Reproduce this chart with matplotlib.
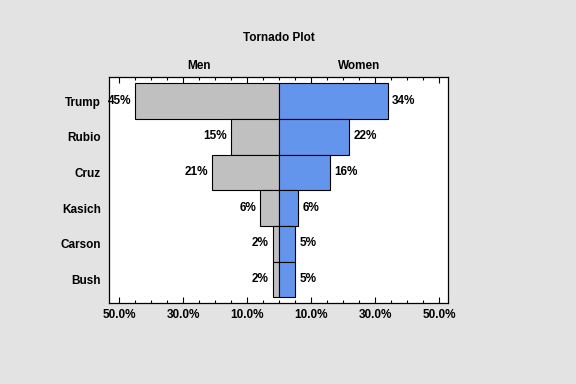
import matplotlib
matplotlib.use("Agg")
import matplotlib.pyplot as plt
import matplotlib.transforms as mtransforms
from matplotlib import font_manager as fm
import numpy as np
import os

candidates = ["Trump", "Rubio", "Cruz", "Kasich", "Carson", "Bush"]
men = [45, 15, 21, 6, 2, 2]
women = [34, 22, 16, 6, 5, 5]
major_ticks = [-50, -30, -10, 10, 30, 50]
major_labels = ["50.0%", "30.0%", "10.0%", "10.0%", "30.0%", "50.0%"]
minor_ticks = list(range(-50, 55, 5))

FS = 8.5
BG = '#e3e3e3'

bold_path = None
for f in fm.findSystemFonts():
    if os.path.basename(f) == 'LiberationSans-Bold.ttf':
        bold_path = f
        break
if bold_path:
    fp = fm.FontProperties(fname=bold_path, size=FS)
else:
    fp = fm.FontProperties(family='DejaVu Sans', weight='bold', size=FS)

fig = plt.figure(figsize=(5.76, 3.84), dpi=100, facecolor=BG)
ax = fig.add_axes([109/576, 1-303.3/384, (448-109)/576, (303.3-77.3)/384])
ax.set_facecolor('white')

y = np.arange(len(candidates))
ax.barh(y, [-m for m in men], height=1.0, color='#c0c0c0', edgecolor='black', linewidth=0.8)
ax.barh(y, women, height=1.0, color='#6495ed', edgecolor='black', linewidth=0.8)

for i, (m, w) in enumerate(zip(men, women)):
    ax.text(-m, i, f"{m}%", ha='right', va='center', fontproperties=fp,
            transform=mtransforms.offset_copy(ax.transData, fig=fig, x=-4, y=0.5, units='dots'))
    ax.text(w, i, f"{w}%", ha='left', va='center', fontproperties=fp,
            transform=mtransforms.offset_copy(ax.transData, fig=fig, x=4, y=0.5, units='dots'))

ax.set_xlim(-53.2, 52.8)
ax.set_ylim(5.67, -0.67)

ax.set_yticks(y)
ax.set_yticklabels(candidates, fontproperties=fp)
ax.tick_params(axis='y', length=0, pad=6)

ax.set_xticks(major_ticks)
ax.set_xticklabels(major_labels, fontproperties=fp)
ax.set_xticks([t for t in minor_ticks if t not in major_ticks], minor=True)
ax.tick_params(axis='x', which='major', direction='in', length=4, width=0.8, top=True, bottom=True, pad=4)
ax.tick_params(axis='x', which='minor', direction='in', length=2, width=0.8, top=True, bottom=True)

for s in ax.spines.values():
    s.set_linewidth(0.9)

trans = mtransforms.blended_transform_factory(ax.transData, fig.transFigure)
ax.text(-25, 1-65.7/384, "Men", ha='center', va='center', fontproperties=fp, transform=trans)
ax.text(25, 1-65.7/384, "Women", ha='center', va='center', fontproperties=fp, transform=trans)
fig.text(278.5/576, 1-37.7/384, "Tornado Plot", ha='center', va='center', fontproperties=fp)

fig.savefig("out.png", dpi=100, facecolor=BG)
